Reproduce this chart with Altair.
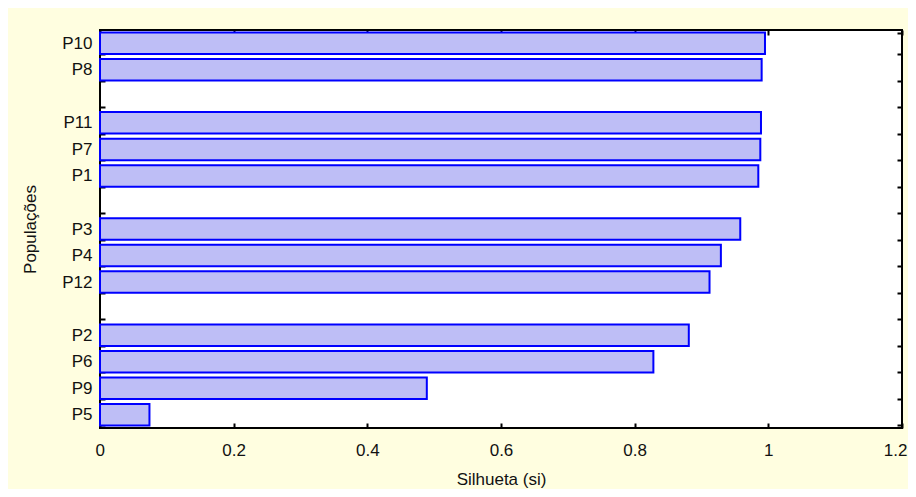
import altair as alt
import pandas as pd

# Category order top to bottom (blank names are the empty slots between groups)
slot_order = ["P10", "P8", " ", "P11", "P7", "P1", "  ",
              "P3", "P4", "P12", "   ", "P2", "P6", "P9", "P5"]
populations = ["P10", "P8", "P11", "P7", "P1", "P3", "P4", "P12",
               "P2", "P6", "P9", "P5"]
silhueta = [0.995, 0.990, 0.989, 0.988, 0.985, 0.958, 0.929, 0.912,
            0.881, 0.828, 0.489, 0.074]
x_ticks = [0, 0.2, 0.4, 0.6, 0.8, 1.0, 1.2]

df = pd.DataFrame({"pop": populations, "si": silhueta})

FONT = "Liberation Sans"
FS = 17

x_scale = alt.Scale(domain=[0, 1.2], nice=False, zero=True)
y_scale = alt.Scale(domain=slot_order, paddingInner=0.19, paddingOuter=0.095)

bars = alt.Chart(df).mark_bar(
    fill="#BEBEF6", stroke="#0000FF", strokeWidth=2
).encode(
    x=alt.X("si:Q", scale=x_scale,
            axis=alt.Axis(orient="bottom", values=x_ticks, format="~g",
                          title="Silhueta (si)", offset=-5, tickSize=5,
                          tickWidth=2, tickColor="black", domain=False,
                          grid=False, labelPadding=14, titlePadding=13,
                          labelFlush=True, labelFlushOffset=5,
                          labelFont=FONT, labelFontSize=FS, labelColor="#111111",
                          titleFont=FONT, titleFontSize=FS, titleFontWeight="normal",
                          titleColor="#111111")),
    y=alt.Y("pop:N", scale=y_scale,
            axis=alt.Axis(orient="left", title="Populações",
                          tickBand="extent", offset=-5, tickSize=5, tickWidth=2,
                          tickColor="black", domain=False, grid=False,
                          labelPadding=8, titlePadding=22,
                          labelFont=FONT, labelFontSize=FS, labelColor="#111111",
                          titleFont=FONT, titleFontSize=FS, titleFontWeight="normal",
                          titleColor="#111111")),
)

mirror = alt.Chart(df).mark_bar(opacity=0).encode(
    x=alt.X("si:Q", scale=x_scale,
            axis=alt.Axis(orient="top", values=x_ticks, labels=False, title=None,
                          offset=-5, tickSize=5, tickWidth=2, tickColor="black",
                          domain=False, grid=False)),
    y=alt.Y("pop:N", scale=y_scale,
            axis=alt.Axis(orient="right", labels=False, title=None,
                          tickBand="extent", offset=-5, tickSize=5, tickWidth=2,
                          tickColor="black", domain=False, grid=False)),
)

chart = alt.layer(bars, mirror).resolve_axis(
    x="independent", y="independent"
).properties(
    width=802, height=398,
    background="#FFFEE0",
    padding={"left": 92, "top": 22, "right": 6, "bottom": 61},
    autosize=alt.AutoSizeParams(type="none"),
).configure_view(
    fill="white", stroke="black", strokeWidth=2
)

chart.save("out.html", embed_options={"renderer": "svg", "actions": False})
